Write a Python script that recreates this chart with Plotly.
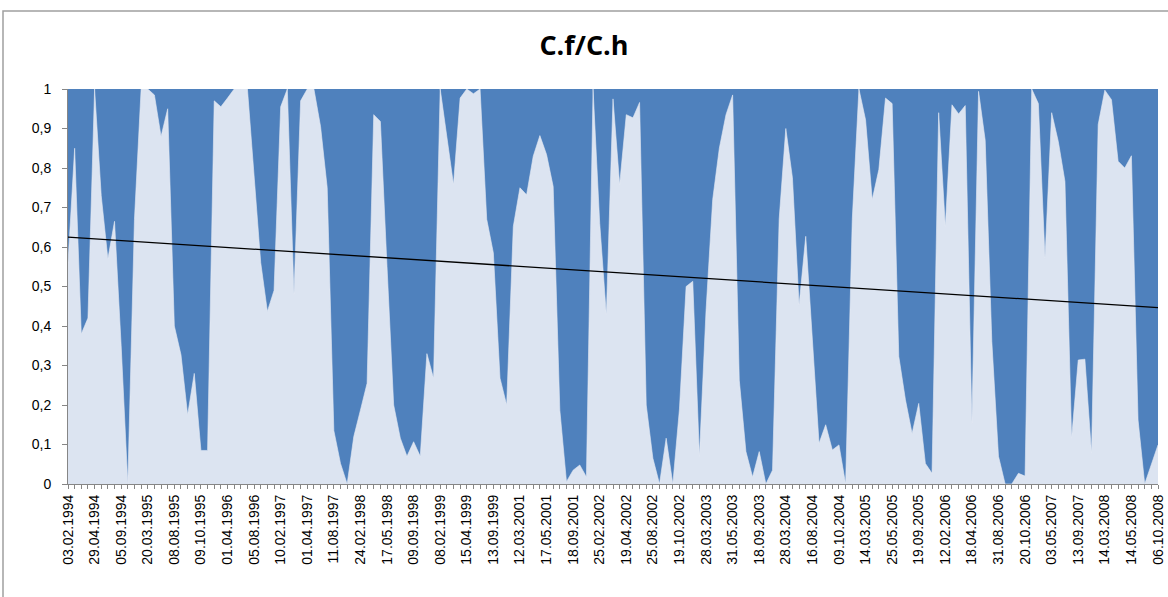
import numpy as np
import plotly.graph_objects as go

# C.f/C.h ratio per sampling date (165 observations)
ratio = [
    0.56, 0.85, 0.38, 0.42, 1.00, 0.73, 0.57, 0.665, 0.35, 0.00,
    0.67, 1.00, 1.00, 0.985, 0.88, 0.95, 0.40, 0.327, 0.175, 0.28,
    0.085, 0.085, 0.97, 0.955, 0.977, 1.00, 1.00, 1.00, 0.78, 0.56,
    0.437, 0.49, 0.955, 1.00, 0.48, 0.97, 1.00, 1.00, 0.905, 0.75,
    0.135, 0.052, 0.00, 0.12, 0.187, 0.255, 0.935, 0.918, 0.55, 0.20,
    0.116, 0.07, 0.107, 0.07, 0.33, 0.268, 1.00, 0.88, 0.758, 0.977,
    1.00, 0.988, 1.00, 0.67, 0.585, 0.268, 0.20, 0.652, 0.75, 0.732,
    0.83, 0.882, 0.834, 0.753, 0.187, 0.006, 0.035, 0.048, 0.018, 1.00,
    0.66, 0.428, 0.975, 0.758, 0.935, 0.927, 0.966, 0.20, 0.065, 0.00,
    0.116, 0.00, 0.19, 0.50, 0.513, 0.07, 0.44, 0.72, 0.85, 0.935,
    0.985, 0.263, 0.082, 0.018, 0.082, 0.00, 0.035, 0.67, 0.90, 0.775,
    0.453, 0.627, 0.35, 0.103, 0.15, 0.086, 0.099, 0.00, 0.67, 1.00,
    0.922, 0.72, 0.796, 0.977, 0.963, 0.323, 0.213, 0.128, 0.204, 0.052,
    0.027, 0.94, 0.652, 0.96, 0.937, 0.958, 0.154, 0.994, 0.87, 0.36,
    0.07, 0.00, 0.00, 0.027, 0.02, 1.00, 0.963, 0.572, 0.94, 0.867,
    0.766, 0.116, 0.314, 0.316, 0.078, 0.91, 0.997, 0.973, 0.817, 0.80,
    0.831, 0.162, 0.00, 0.052, 0.099,
]

# every fourth sampling date is labelled on the category axis
date_labels = [
    "03.02.1994", "29.04.1994", "05.09.1994", "20.03.1995", "08.08.1995",
    "09.10.1995", "01.04.1996", "05.08.1996", "10.02.1997", "01.04.1997",
    "11.08.1997", "24.02.1998", "17.05.1998", "09.09.1998", "08.02.1999",
    "15.04.1999", "13.09.1999", "12.03.2001", "17.05.2001", "18.09.2001",
    "25.02.2002", "19.04.2002", "25.08.2002", "19.10.2002", "28.03.2003",
    "31.05.2003", "18.09.2003", "28.03.2004", "16.08.2004", "09.10.2004",
    "14.03.2005", "25.05.2005", "19.09.2005", "12.02.2006", "18.04.2006",
    "31.08.2006", "20.10.2006", "03.05.2007", "13.09.2007", "14.03.2008",
    "14.05.2008", "06.10.2008",
]
label_step = 4

y_ticks = [0, 0.1, 0.2, 0.3, 0.4, 0.5, 0.6, 0.7, 0.8, 0.9, 1]
y_tick_text = ["0", "0,1", "0,2", "0,3", "0,4", "0,5", "0,6", "0,7", "0,8", "0,9", "1"]

n = len(ratio)
idx = np.arange(n)
full = np.ones(n)

tick_text = [date_labels[i // label_step] if i % label_step == 0 else "" for i in range(n)]

# linear trend of the ratio
slope, intercept = np.polyfit(idx, np.array(ratio), 1)
trend = slope * idx + intercept

fig = go.Figure()
fig.add_trace(go.Scatter(
    x=idx, y=full, mode="lines", fill="tozeroy",
    line=dict(width=0, color="#4F81BD"), fillcolor="#4F81BD",
    hoverinfo="skip", showlegend=False,
))
fig.add_trace(go.Scatter(
    x=idx, y=ratio, mode="lines", fill="tozeroy",
    line=dict(width=0.6, color="#E4EAF4"), fillcolor="#DCE4F1",
    name="C.f/C.h", showlegend=False,
))
fig.add_trace(go.Scatter(
    x=idx, y=trend, mode="lines",
    line=dict(width=1.3, color="#000000"),
    name="Trend", showlegend=False,
))

axis_grey = "#868686"
fig.update_layout(
    width=1168, height=597,
    margin=dict(l=68, r=10, t=89, b=113),
    paper_bgcolor="#FFFFFF", plot_bgcolor="#FFFFFF",
    title=dict(
        text="<b>C.f/C.h</b>", x=0.5, xanchor="center",
        y=1 - 46 / 597, yanchor="middle",
        font=dict(family="Open Sans, Liberation Sans, sans-serif", size=27, color="#000000"),
    ),
    xaxis=dict(
        range=[0, n - 1], tickmode="array", automargin=False,
        tickvals=list(idx), ticktext=tick_text, tickangle=-90,
        ticks="outside", ticklen=4, tickcolor=axis_grey, tickwidth=1,
        showline=True, linecolor=axis_grey, linewidth=1,
        showgrid=False, zeroline=False,
        tickfont=dict(family="Liberation Sans, Arial, sans-serif", size=14, color="#000000"),
    ),
    yaxis=dict(
        range=[0, 1], tickmode="array", automargin=False,
        tickvals=y_ticks, ticktext=y_tick_text,
        ticks="outside", ticklen=5, tickcolor=axis_grey, tickwidth=1,
        ticklabelstandoff=8,
        showline=True, linecolor=axis_grey, linewidth=1,
        showgrid=False, zeroline=False,
        tickfont=dict(family="Liberation Sans, Arial, sans-serif", size=14, color="#000000"),
    ),
    shapes=[dict(
        type="rect", xref="paper", yref="paper",
        x0=-65 / 1090, x1=1.03, y0=-0.4, y1=1 + 78 / 395,
        line=dict(color="#A0A0A0", width=1.5), fillcolor="rgba(0,0,0,0)",
        layer="below",
    )],
)

fig.write_html("out.html")
